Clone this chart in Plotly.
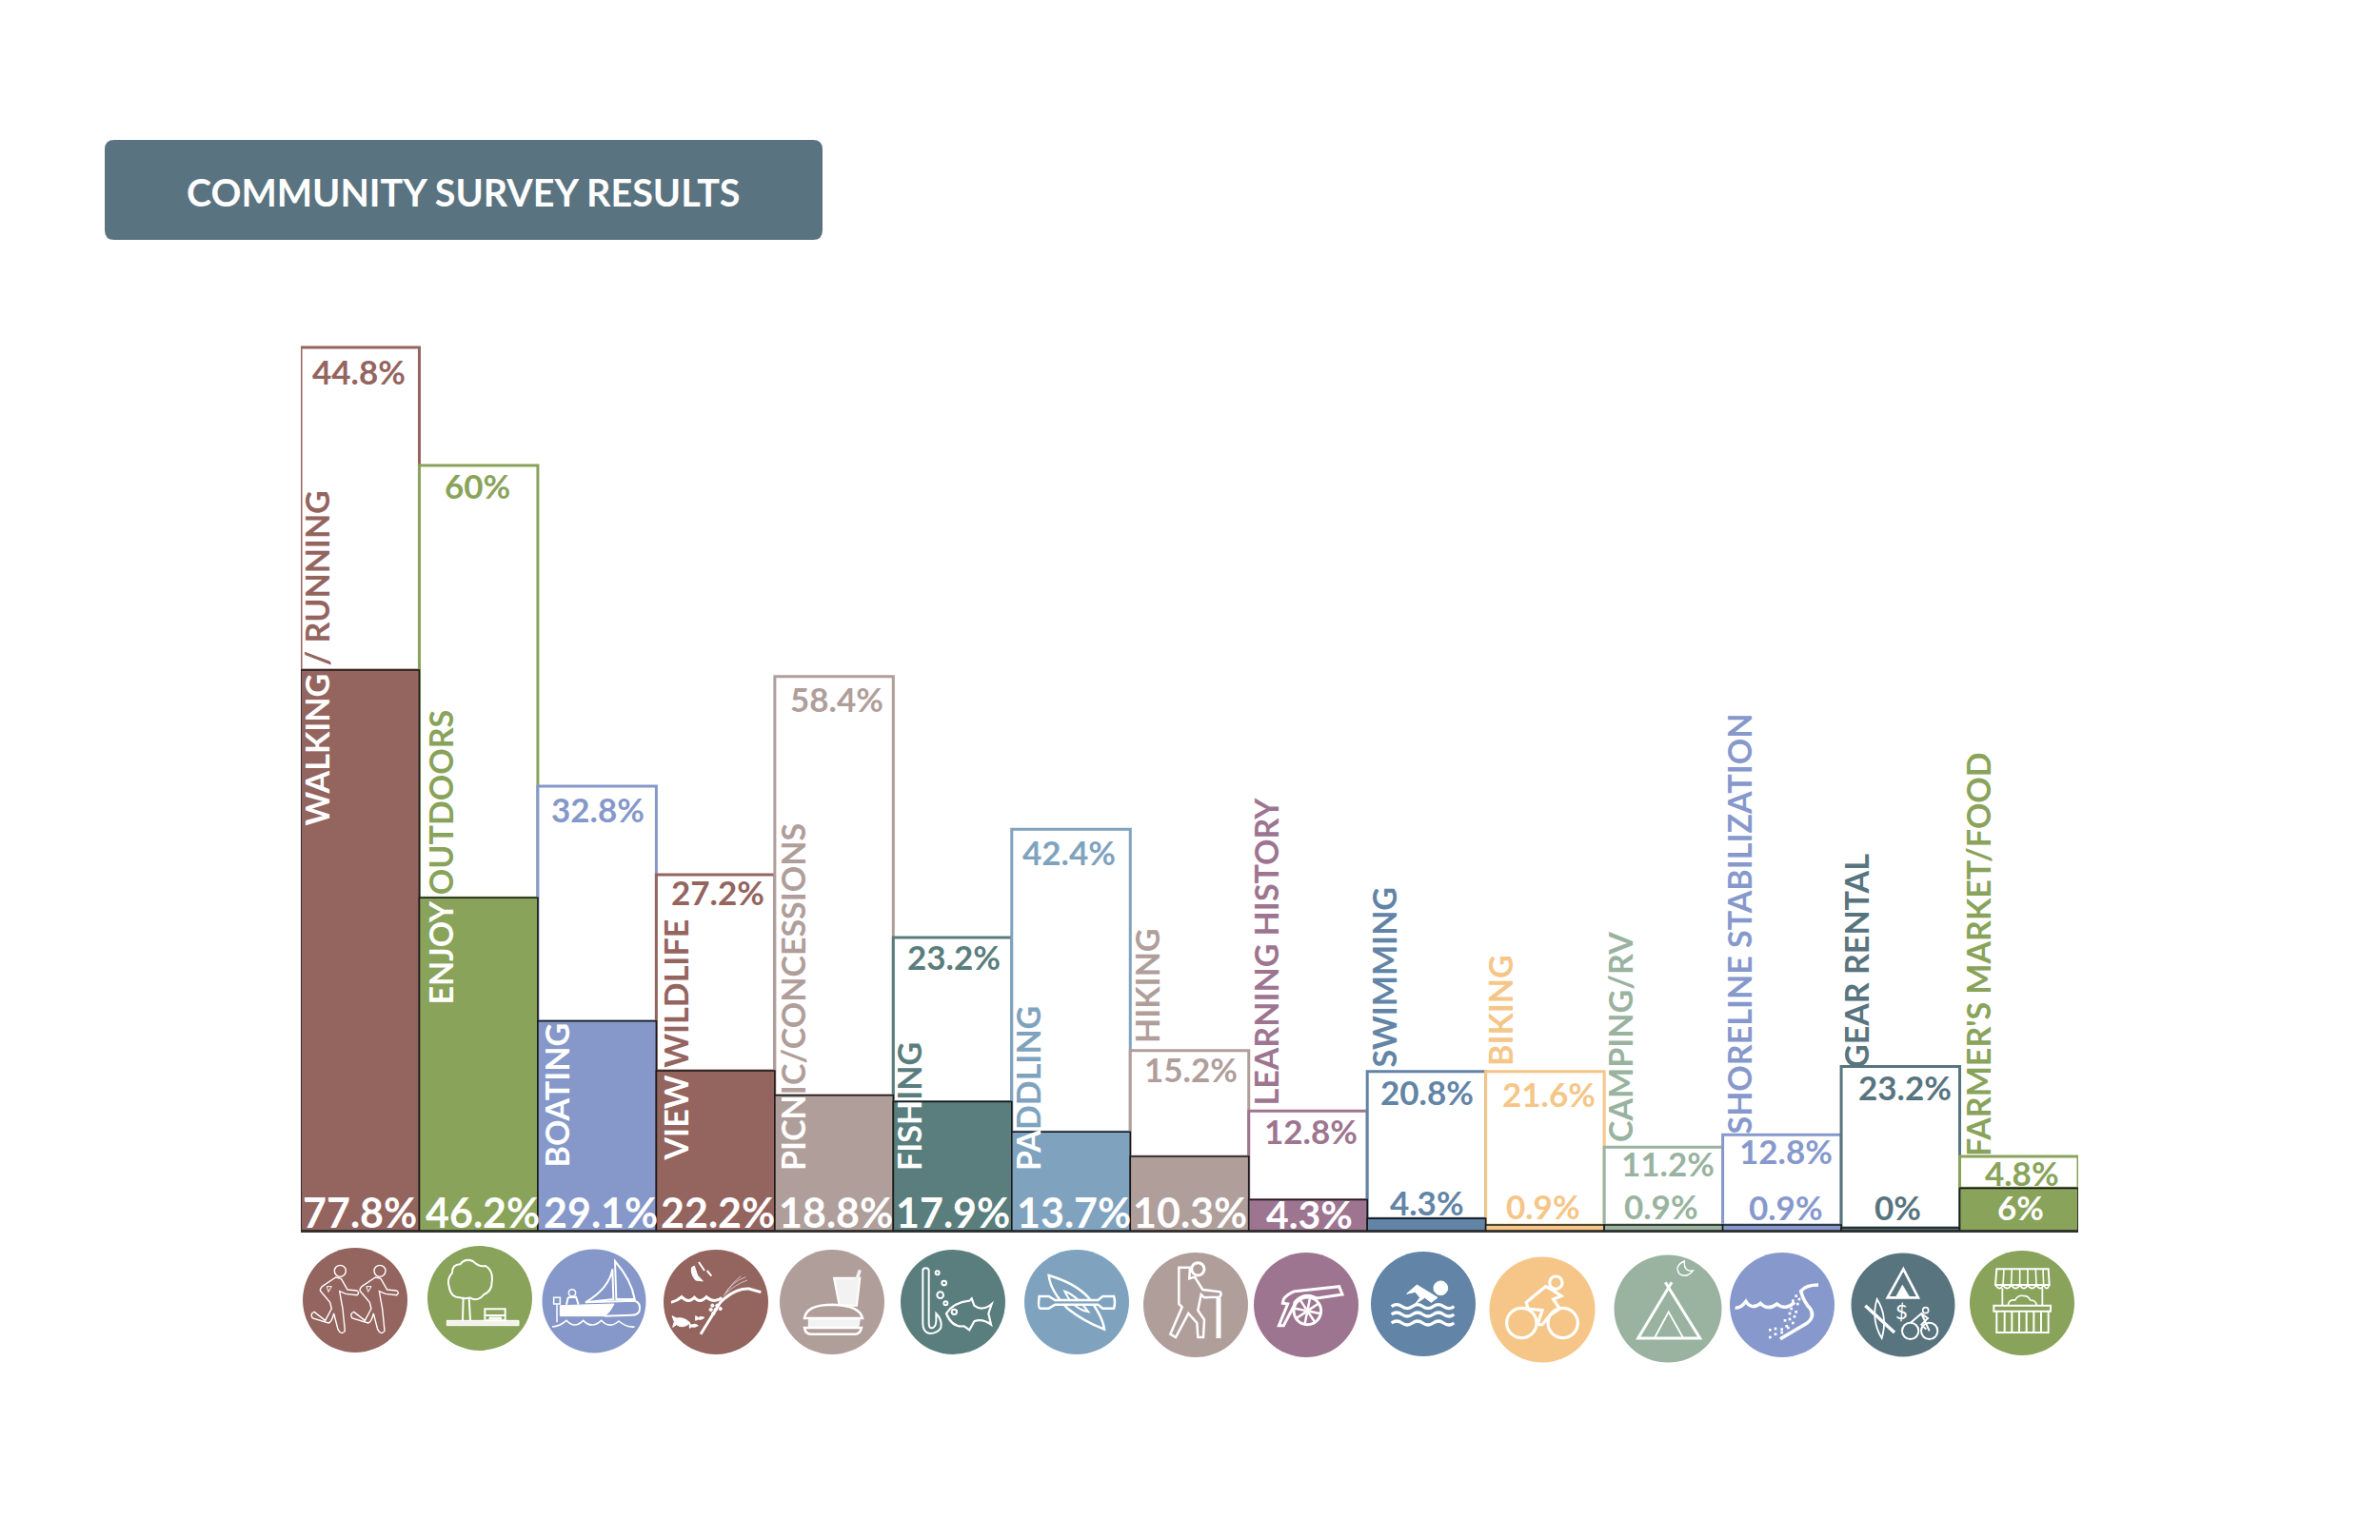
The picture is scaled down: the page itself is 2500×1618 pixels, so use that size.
import re, math
import plotly.graph_objects as go

W, H = 2500, 1618
TITLE = "COMMUNITY SURVEY RESULTS"
CATEGORIES = ["Walking / Running","Enjoy Outdoors","Boating","View Wildlife","Picnic/Concessions","Fishing","Paddling","Hiking",
              "Learning History","Swimming","Biking","Camping/RV","Shoreline Stabilization","Gear Rental","Farmer's Market/Food"]
FILLED_DRAWN = [77.8,46.2,29.1,22.2,18.8,17.9,13.7,10.3,4.3,1.7,0.8,0.8,0.8,0.4,5.9]
HOLLOW_DRAWN = [44.8,60.0,32.6,27.2,58.1,22.8,42.0,14.7,12.3,20.4,21.3,10.8,12.5,22.4,4.4]
FILLED_LABELS = ["77.8%","46.2%","29.1%","22.2%","18.8%","17.9%","13.7%","10.3%","4.3%","4.3%","0.9%","0.9%","0.9%","0%","6%"]
HOLLOW_LABELS = ["44.8%","60%","32.8%","27.2%","58.4%","23.2%","42.4%","15.2%","12.8%","20.8%","21.6%","11.2%","12.8%","23.2%","4.8%"]
NAME_INSIDE = ["WALKING","ENJOY","BOATING","VIEW","PICN","FISH","PA","","","","","","","",""]
NAME_ABOVE = [" / RUNNING"," OUTDOORS",""," WILDLIFE","IC/CONCESSIONS","ING","DDLING","HIKING","LEARNING HISTORY","SWIMMING","BIKING","CAMPING/RV","SHORELINE STABILIZATION","GEAR RENTAL","FARMER'S MARKET/FOOD"]
COLORS = ["#94645F","#89A35A","#8598C9","#94645F","#B09E9B","#597E7D","#7FA3BE","#B09E9B","#9E7590","#6284A6","#F5C687","#99B3A0","#8799CC","#58747F","#89A35A"]

# layout (pixel positions of text and decoration)
PLOT_L, PLOT_R, BASE_Y = 316, 2183, 1293
PX_PER_UNIT = 7.57
NAME_X = [320,450,572,697,821,943,1068,1193,1317,1441,1564,1690,1814,1938,2066]
NAME_Y = [868,1056,1227,1220,1230,1230,1230,1096,1162,1122,1120,1200,1192,1122,1215]
FILLED_LABEL_X = [378,507,631,754,878,1001,1128,1250,1375,1499,1621,1745,1876,1993,2122]
FILLED_LABEL_Y = [1273,1273,1273,1273,1273,1273,1273,1273,1275,1263,1267,1267,1268,1268,1268]
HOLLOW_LABEL_X = [377,501,628,754,879,1002,1123,1251,1377,1499,1627,1752,1876,2001,2124]
HOLLOW_LABEL_Y = [390,510,850,937,734,1005,895,1123,1188,1147,1149,1222,1209,1142,1232]
WHITE_FILLED = [True]*9 + [False]*5 + [True]
ICON_X = [373,504,624,752,874,1001,1131,1256,1372,1495,1620,1752,1872,1999,2124]
ICON_Y = [1366,1364,1367,1368,1368,1368,1368,1371,1371,1370,1376,1375,1371,1371,1369]
ICON_R = [55,55,54.5,55,55,55,55,55,55,55,55.5,56.5,55,54.5,55]
FONT = "Lato"

def px(x): return x / W
def py(y): return 1 - y / H

def circ(cx, cy, r):
    k = 0.5523 * r
    return (f"M{cx-r},{cy} C{cx-r},{cy-k} {cx-k},{cy-r} {cx},{cy-r} C{cx+k},{cy-r} {cx+r},{cy-k} {cx+r},{cy} "
            f"C{cx+r},{cy+k} {cx+k},{cy+r} {cx},{cy+r} C{cx-k},{cy+r} {cx-r},{cy+k} {cx-r},{cy} Z")

def wave(x0, x1, y, n, amp):
    step = (x1 - x0) / (2 * n)
    s = f"M{x0},{y}"
    x = x0
    for i in range(2 * n):
        a = -amp if i % 2 == 0 else amp
        s += f" Q{x+step/2},{y+a*2} {x+step},{y}"
        x += step
    return s

def shift(path, dx, dy=0):
    isx = [True]
    def rep(m):
        v = float(m.group()) + (dx if isx[0] else dy)
        isx[0] = not isx[0]
        return f"{v:.2f}"
    return re.sub(r"-?\d+\.?\d*", rep, path)

shapes = []
def add_path(path, origin, lw=2.0, fill=None, color="#FFFFFF"):
    ox, oy = origin
    isx = [True]
    def rep(m):
        v = float(m.group()) / 3
        if isx[0]:
            r = (ox + v) / W
        else:
            r = 1 - (oy + v) / H
        isx[0] = not isx[0]
        return f"{r:.6f}"
    p = re.sub(r"-?\d+\.?\d*", rep, path)
    shapes.append(dict(type="path", xref="paper", yref="paper", path=p, layer="above",
                       line=dict(color=color, width=lw) if lw else dict(width=0),
                       fillcolor=fill if fill else "rgba(0,0,0,0)"))

def spokes(cx, cy, r1, r2, n):
    s = ""
    for i in range(n):
        t = 2 * math.pi * i / n + 0.2
        s += f"M{cx+r1*math.cos(t):.1f},{cy+r1*math.sin(t):.1f} L{cx+r2*math.cos(t):.1f},{cy+r2*math.sin(t):.1f} "
    return s

# discs
for x, y, r, c in zip(ICON_X, ICON_Y, ICON_R, COLORS):
    shapes.append(dict(type="circle", xref="paper", yref="paper", x0=px(x-r), x1=px(x+r), y0=py(y+r), y1=py(y-r),
                       fillcolor=c, line=dict(width=0), layer="above"))

W1 = "#FFFFFF"
A = (310, 1300); B = (810, 1300); C = (1310, 1300); D = (1690, 1300)
# runners
runner = ("M128,126 L85,155 Q75,165 82,172 L110,205 L115,225 L95,262 L60,235 Q46,240 55,255 L105,270 Q115,268 122,240 "
          "L135,290 Q145,310 157,295 L150,225 L140,170 L160,178 L195,182 Q205,175 195,168 L165,165 L145,130 Z")
for dx in (0, 125):
    add_path(shift(runner, dx), A, 1.4)
    add_path(circ(142+dx, 106, 18), A, 1.4)
    add_path(shift("M100,155 L115,155 L105,172 Z", dx), A, 1)
# tree
add_path("M520,190 Q490,190 485,155 Q478,130 495,112 Q495,85 520,85 Q535,65 560,75 Q580,95 600,90 Q625,105 620,140 Q620,170 595,180 Q575,205 550,190 Q535,195 520,190 Z", A, 2)
add_path("M530,188 L528,262 M548,190 L552,262", A, 2)
add_path("M478,262 L705,262 L705,278 L478,278 Z", A, 1, "#F2F2EA")
add_path("M598,226 L662,226 L662,262 L598,262 Z M598,246 L662,246", A, 2)
add_path("M612,252 L650,252 L650,258 L612,258 Z", A, 1, "#F2F2EA")
# boats
add_path("M1008,75 L1012,195 L1070,195 Q1060,135 1008,75 Z", A, 2)
add_path("M1000,100 Q990,160 915,205 L1003,195 Z", A, 2)
add_path("M835,215 L1005,210 Q990,240 975,248 L835,248 Z", A, 1, W1)
add_path("M915,205 L1070,200 Q1090,205 1085,232 Q1080,245 1060,245 L975,248", A, 2)
add_path(circ(873,175,11), A, 1.5)
add_path("M860,190 L885,188 L893,212 M860,190 L855,212", A, 2)
add_path("M815,190 L835,190 L835,210 L815,210 Z M825,210 L825,268", A, 1.5)
add_path("M810,282 Q835,280 855,262 Q880,290 908,262 Q935,290 965,262 Q990,290 1020,264 Q1045,285 1070,282", A, 1.6)
# wildlife
add_path("M1278,305 L1340,205 Q1385,160 1430,162 L1468,173", A, 3)
add_path("M1185,205 Q1205,200 1218,188 Q1240,210 1258,190 Q1275,210 1296,188 Q1320,210 1345,190", A, 3)
add_path("M1250,95 Q1245,115 1262,135 L1285,138 L1268,120 L1258,90 Z", A, 1, W1)
add_path("M1272,78 L1290,105 M1298,105 L1312,122", A, 2)
add_path("M1350,185 Q1375,140 1420,125 M1355,180 Q1375,145 1405,122 M1360,175 Q1385,150 1425,135", A, 0.6)
add_path("M1188,248 L1202,255 Q1225,250 1245,270 Q1220,290 1202,275 L1190,283 L1195,266 Z", A, 1, W1)
add_path("M1262,248 L1270,253 Q1280,248 1290,253 Q1280,262 1270,258 L1262,262 Z", A, 1, W1)
add_path("M1243,272 L1250,276 Q1260,270 1270,278 Q1260,285 1250,282 L1243,286 Z", A, 1, W1)
for c_ in [(1315,215),(1330,215),(1310,228),(1325,228),(1340,225),(1318,240)]:
    add_path(circ(c_[0], c_[1], 5), A, 1, W1)
# burger
add_path("M198,128 L280,128 L270,215 L215,215 Z", B, 2, "#F2F2F2")
add_path("M280,103 L258,168", B, 3.5, None, "#F2F2F2")
add_path("M105,255 Q110,212 195,212 Q280,215 288,255 Z", B, 2.5, "#B09E9B")
add_path("M118,260 L280,260 L275,283 L118,283 Z", B, 1, "#F2F2F2")
add_path("M105,285 L285,285 Q280,305 265,305 L125,305 Q108,305 105,285 Z", B, 2.5)
# hook and fish
add_path("M478,105 Q478,97 487,97 Q497,97 497,105 L497,270 Q497,290 510,285 Q522,280 520,250 L520,240 Q540,260 535,285 Q525,303 500,303 Q478,300 478,270 Z", B, 2)
for c_ in [(524,112,6),(545,144,7),(533,182,10),(550,208,6)]:
    add_path(circ(*c_), B, 2)
add_path("M552,240 Q575,205 625,200 L632,193 L640,215 Q665,235 695,210 L685,240 L693,275 Q665,255 640,265 L625,292 L608,280 Q570,285 552,240 Z", B, 2.2)
add_path(circ(577,235,8), B, 2)
# kayak
add_path("M875,120 Q960,145 1000,190 Q1045,250 1050,290 Q985,265 935,225 Q880,170 875,120 Z", B, 2.5)
add_path("M925,170 Q960,180 1000,235 Q950,225 925,170 Z", B, 2)
add_path("M845,186 Q840,222 848,224 L875,224 L895,212 L1030,212 L1045,224 L1080,224 Q1086,205 1080,186 L1045,186 L1030,198 L895,198 L875,186 Z", B, 2.5, "#7FA3BE")
# hiker
add_path(circ(1345,100,20), B, 3)
add_path("M1285,95 L1320,95 L1318,130 L1335,125 L1360,165 L1415,172 Q1422,182 1412,188 L1365,190 L1355,180 L1345,230 L1365,260 L1362,315 L1345,315 L1342,270 L1315,240 L1275,315 L1258,305 L1295,220 L1285,210 Z", B, 2.5)
add_path("M1410,190 L1410,318", B, 5)
# cannon
add_path("M150,170 L290,155 L300,180 L220,192 L210,188 Q175,175 150,205 L148,215 L115,278 L100,278 L128,210 L112,208 L115,195 Q125,180 150,170 Z", C, 3)
add_path(circ(190,232,43), C, 3)
add_path(circ(190,232,7), C, 1, "#FFFFFF")
add_path(spokes(190,232,7,43,8), C, 2.5)
# swimmer
add_path(circ(610,160,22), C, 1, W1)
add_path("M503,178 L535,150 L600,190 L580,205 L560,190 L530,210 L545,190 L530,172 Z", C, 1, W1)
for y_ in (218,243,270):
    add_path(wave(455,652,y_,3,6), C, 3.2)
# cyclist
add_path(circ(865,270,47), C, 3.2)
add_path(circ(995,270,47), C, 3.2)
add_path(circ(973,143,20), C, 3.2)
add_path("M880,205 L940,155 L960,165 L990,185 L965,195 L985,225 L955,245 L930,275 L915,275 L930,230 L885,225 Z", C, 3.2)
# tent
add_path("M1338,142 L1232,318 L1427,318 L1318,142", C, 3)
add_path("M1285,315 L1328,235 L1373,315", C, 1.8)
add_path("M1378,75 Q1345,90 1362,115 Q1385,130 1405,105 Q1375,110 1378,75 Z", C, 1.4)
# shoreline
add_path("M660,150 Q620,150 605,170 Q615,205 635,225 Q650,250 625,270 L540,320", D, 3.5)
add_path("M398,222 Q415,225 432,202 Q450,230 478,208 Q500,232 530,210 Q555,232 585,205", D, 3.5)
for c_ in [(590,185),(600,195),(580,200),(595,210),(575,225),(590,235),(570,240),(585,250),(570,258),(555,262),(580,270),
           (560,280),(545,290),(525,288),(508,292),(525,305),(508,315),(545,300),(565,285)]:
    add_path(f"M{c_[0]-4},{c_[1]-4} L{c_[0]+4},{c_[1]-4} L{c_[0]+4},{c_[1]+4} L{c_[0]-4},{c_[1]+4} Z", D, 0, W1)
# gear
add_path("M928,100 L878,190 L975,190 Z", D, 2.6)
add_path("M925,150 L905,187 L947,187 Z", D, 0.5, W1)
add_path("M845,195 Q880,250 860,318 Q825,260 845,195 Z", D, 1.8)
add_path("M808,215 L900,300", D, 3.5)
add_path(circ(950,295,26), D, 2)
add_path(circ(1010,295,26), D, 2)
add_path(circ(998,230,9), D, 1.6)
add_path("M950,270 L985,240 L1005,255 L985,275 L1000,290 M985,240 L1010,295", D, 2)
# market
add_path("M1218,150 L1222,100 L1385,100 L1388,150 Z", D, 2)
add_path("M1245,100 L1242,150 M1270,100 L1268,150 M1295,100 L1295,150 M1320,100 L1320,150 M1345,100 L1347,150 M1368,100 L1370,150", D, 1.6)
add_path("M1218,150 Q1232,172 1242,150 Q1255,172 1268,150 Q1282,172 1295,150 Q1308,172 1320,150 Q1333,172 1347,150 Q1360,172 1370,150 Q1380,172 1388,150", D, 1.6)
add_path("M1240,160 L1240,215 M1366,160 L1366,215", D, 1.8)
add_path("M1213,215 L1392,215 L1392,233 L1213,233 Z", D, 2)
add_path("M1222,233 L1222,300 L1385,300 L1385,233 M1247,233 L1247,300 M1270,233 L1270,300 M1293,233 L1293,300 M1316,233 L1316,300 M1339,233 L1339,300 M1362,233 L1362,300", D, 2)
add_path("M1258,213 Q1260,195 1280,198 Q1288,182 1305,184 Q1322,184 1328,198 Q1345,198 1348,213", D, 1.6)
# banner
r = 10
bw, bh = 754*3, 105*3
rr = r*3
add_path(f"M{rr},0 L{bw-rr},0 Q{bw},0 {bw},{rr} L{bw},{bh-rr} Q{bw},{bh} {bw-rr},{bh} L{rr},{bh} Q0,{bh} 0,{bh-rr} L0,{rr} Q0,0 {rr},0 Z",
         (110,147), 0, "#5A7380")

ann = []
def text(x, y, s, size, color, xanchor="center", yanchor="middle", angle=0, weight=700):
    ann.append(dict(x=px(x), y=py(y), xref="paper", yref="paper", text=s, showarrow=False, xanchor=xanchor, yanchor=yanchor,
                    textangle=angle, borderpad=0, borderwidth=0, align="center",
                    font=dict(family=FONT, size=size, color=color, weight=weight)))

text(486.5, 201, TITLE, 39.5, "#FFFFFF")
for i in range(15):
    s = ""
    if NAME_INSIDE[i]:
        s += f'<span style="color:#FFFFFF">{NAME_INSIDE[i]}</span>'
    if NAME_ABOVE[i]:
        s += f'<span style="color:{COLORS[i]}">{NAME_ABOVE[i].replace(" ", "&nbsp;")}</span>'
    text(NAME_X[i]-9, NAME_Y[i], s, 34, COLORS[i], "left", "bottom", -90)
    text(HOLLOW_LABEL_X[i], HOLLOW_LABEL_Y[i], HOLLOW_LABELS[i], 35, COLORS[i])
    big = WHITE_FILLED[i] and FILLED_LABELS[i] != "6%"
    size = 41 if i == 8 else (43 if big else 35)
    text(FILLED_LABEL_X[i], FILLED_LABEL_Y[i], FILLED_LABELS[i], size, "#FFFFFF" if WHITE_FILLED[i] else COLORS[i])
text(1690+922/3, 1300+233/3, "$", 22, "#FFFFFF", weight=400)

xs = list(range(15))
fig = go.Figure()
fig.add_bar(x=xs, y=HOLLOW_DRAWN, base=FILLED_DRAWN, width=1, marker=dict(color="#FFFFFF", line=dict(color=COLORS, width=3)), hoverinfo="skip", customdata=CATEGORIES)
fig.add_bar(x=xs, y=FILLED_DRAWN, width=1, marker=dict(color=COLORS, line=dict(color="#1A1A1A", width=1.6)), hoverinfo="skip", customdata=CATEGORIES)
fig.update_layout(
    width=W, height=H, autosize=False, margin=dict(l=0, r=0, t=0, b=0), barmode="overlay", showlegend=False,
    paper_bgcolor="#FFFFFF", plot_bgcolor="rgba(0,0,0,0)", shapes=shapes, annotations=ann,
    xaxis=dict(domain=[PLOT_L/W, PLOT_R/W], range=[-0.5, 14.5], showgrid=False, zeroline=False, showticklabels=False, ticks="",
               showline=True, linecolor="#333333", linewidth=2),
    yaxis=dict(domain=[(H-BASE_Y)/H, 1], range=[0, BASE_Y/PX_PER_UNIT], showgrid=False, zeroline=False, showticklabels=False, ticks="", showline=False),
)
fig.write_html("out.html", config={"displayModeBar": False},
               post_script="document.body.style.margin='0';document.body.style.overflow='hidden';")
